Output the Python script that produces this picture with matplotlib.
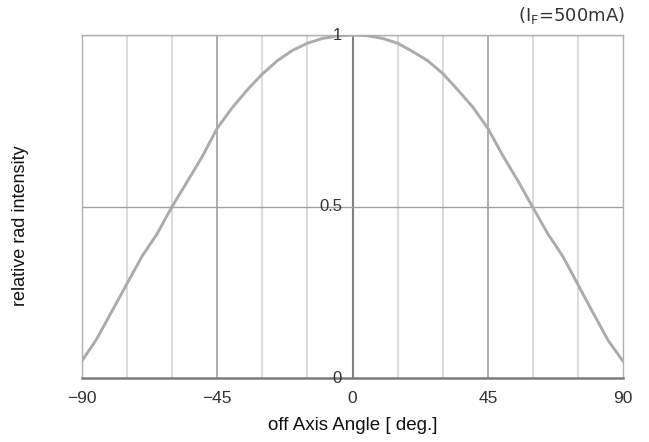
import matplotlib
matplotlib.use("Agg")
import matplotlib.pyplot as plt

# off-axis angle (deg) and relative radiant intensity
angles = [-90, -85, -80, -75, -70, -65, -60, -55, -50, -45, -40, -35, -30,
          -25, -20, -15, -10, -5, 0, 5, 10, 15, 20, 25, 30, 35, 40, 45,
          50, 55, 60, 65, 70, 75, 80, 85, 90]
intensity = [0.05, 0.115, 0.195, 0.275, 0.355, 0.42, 0.50, 0.572, 0.645,
             0.728, 0.788, 0.84, 0.886, 0.925, 0.955, 0.976, 0.99, 0.997,
             1.0, 0.998, 0.99, 0.976, 0.952, 0.925, 0.888, 0.84, 0.79,
             0.728, 0.648, 0.575, 0.497, 0.42, 0.354, 0.272, 0.19, 0.11, 0.049]

xticks = [-90, -45, 0, 45, 90]
xtick_labels = ["\u221290", "\u221245", "0", "45", "90"]
yticks = [0, 0.5, 1]
ytick_labels = ["0", "0.5", "1"]
minor_x = [-75, -60, -30, -15, 15, 30, 60, 75]

plt.rcParams['font.family'] = ['Liberation Sans', 'DejaVu Sans']

fig = plt.figure(figsize=(6.49, 4.42), dpi=100)
ax = fig.add_axes([0.1259, 0.1439, 0.8345, 0.7769])

# grid
for x in minor_x:
    ax.axvline(x, color='#d4d4d4', lw=1.2, zorder=1)
for x in [-45, 45]:
    ax.axvline(x, color='#a0a0a0', lw=1.2, zorder=1)
ax.axvline(0, color='#808080', lw=1.5, zorder=1)
for y in [0.5, 1.0]:
    ax.axhline(y, color='#a0a0a0', lw=1.0, zorder=1)

ax.plot(angles, intensity, color='#ababab', lw=2.1, zorder=3,
        solid_capstyle='round')

ax.set_xlim(-90, 90)
ax.set_ylim(0, 1)
ax.set_xticks(xticks)
ax.set_xticklabels(xtick_labels)
ax.set_yticks([])
ax.tick_params(axis='x', length=0, pad=9, labelsize=12.5, labelcolor='#333333')

for s in ['top', 'left', 'right']:
    ax.spines[s].set_color('#b0b0b0')
    ax.spines[s].set_linewidth(1.0)
ax.spines['bottom'].set_color('#7a7a7a')
ax.spines['bottom'].set_linewidth(1.8)

# y tick labels drawn next to the center line
for y, lab in zip(yticks, ytick_labels):
    ax.text(-3.5, y, lab, ha='right', va='center', fontsize=12,
            color='#333333', zorder=4)

ax.set_xlabel("off Axis Angle [ deg.]", fontsize=13.5, color='#111111',
              labelpad=8)
fig.text(0.031, 0.49, "relative rad intensity", rotation=90, ha='center',
         va='center', fontsize=13, color='#111111')

fig.text(0.88, 0.965, r"(I$_\mathregular{F}$=500mA)", ha='center',
         va='center', fontsize=13, color='#333333', family='DejaVu Sans')

fig.savefig("out.png", dpi=100)
